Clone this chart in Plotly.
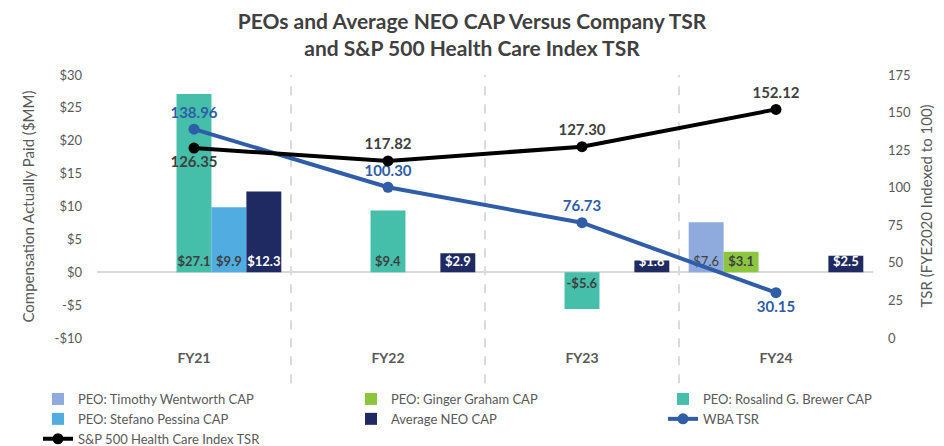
import plotly.graph_objects as go

categories = ["FY21", "FY22", "FY23", "FY24"]
wentworth = [None, None, None, 7.6]
graham = [None, None, None, 3.1]
brewer = [27.1, 9.4, -5.6, None]
pessina = [9.9, None, None, None]
neo = [12.3, 2.9, 1.8, 2.5]
wba_tsr = [138.96, 100.30, 76.73, 30.15]
sp_tsr = [126.35, 117.82, 127.30, 152.12]
wba_pos = ["top center", "top center", "top center", "bottom center"]
sp_pos = ["bottom center", "top center", "top center", "top center"]
left_ticks = [-10, -5, 0, 5, 10, 15, 20, 25, 30]
left_ticktext = ["-$10", "-$5", "$0", "$5", "$10", "$15", "$20", "$25", "$30"]
right_ticks = [0, 25, 50, 75, 100, 125, 150, 175]

FONT = "Lato"
GRAY = "#595959"
DARK = "#404040"

def money(vals):
    return [("" if v is None else ("-$%.1f" % abs(v) if v < 0 else "$%.1f" % v)) for v in vals]

fig = go.Figure()

bar_specs = [
    ("PEO: Timothy Wentworth CAP", wentworth, "#8FAADC", DARK, "normal", "legend"),
    ("PEO: Ginger Graham CAP", graham, "#8CC63F", DARK, "bold", "legend2"),
    ("PEO: Rosalind G. Brewer CAP", brewer, "#45BFAA", DARK, "bold", "legend3"),
    ("PEO: Stefano Pessina CAP", pessina, "#51ACE2", DARK, "bold", "legend"),
    ("Average NEO CAP", neo, "#1F2A62", "white", "bold", "legend2"),
]
for name, vals, col, tcol, tw, lg in bar_specs:
    fig.add_trace(go.Bar(
        x=categories, y=vals, name=name, marker=dict(color=col, line=dict(width=0)),
        text=money(vals), textposition="inside", insidetextanchor="start",
        constraintext="none", textangle=0, cliponaxis=False,
        textfont=dict(family=FONT, size=13, color=tcol, weight=tw),
        legend=lg,
    ))

fig.add_trace(go.Scatter(
    x=categories, y=wba_tsr, name="WBA TSR", yaxis="y2", mode="lines+markers+text",
    line=dict(color="#2F5DA8", width=4), marker=dict(size=11, color="#2F5DA8"),
    text=["%.2f" % v for v in wba_tsr], textposition=wba_pos, cliponaxis=False,
    textfont=dict(family=FONT, size=15, color="#2F5DA8", weight="bold"), legend="legend3",
))
fig.add_trace(go.Scatter(
    x=categories, y=sp_tsr, name="S&P 500 Health Care Index TSR", yaxis="y2",
    mode="lines+markers+text",
    line=dict(color="black", width=4), marker=dict(size=11, color="black"),
    text=["%.2f" % v for v in sp_tsr], textposition=sp_pos, cliponaxis=False,
    textfont=dict(family=FONT, size=15, color=DARK, weight="bold"), legend="legend",
))

# category dividers
for i in range(len(categories) - 1):
    fig.add_shape(type="line", xref="x", yref="paper", x0=i + 0.5, x1=i + 0.5,
                  y0=-0.172, y1=1.0, line=dict(color="#D0D0D0", width=1.5, dash="dash"),
                  layer="below")

# axis titles
fig.add_annotation(text="Compensation Actually Paid ($MM)", xref="paper", yref="paper",
                   x=(27 - 97) / 776, y=0.5, textangle=-90, showarrow=False,
                   xanchor="center", yanchor="middle",
                   font=dict(family=FONT, size=15, color=GRAY))
fig.add_annotation(text="TSR (FYE2020 Indexed to 100)", xref="paper", yref="paper",
                   x=(925 - 97) / 776, y=0.5, textangle=-90, showarrow=False,
                   xanchor="center", yanchor="middle",
                   font=dict(family=FONT, size=15, color=GRAY))

legend_common = dict(orientation="v", xref="container", yref="container", yanchor="top",
                     xanchor="left", font=dict(family=FONT, size=13, color=GRAY),
                     bgcolor="rgba(0,0,0,0)", tracegroupgap=0, itemwidth=30)

fig.update_layout(
    width=944, height=446,
    margin=dict(l=97, r=71, t=75, b=108, autoexpand=False),
    paper_bgcolor="white", plot_bgcolor="white",
    font=dict(family=FONT, color=GRAY),
    title=dict(text="PEOs and Average NEO CAP Versus Company TSR<br>and S&P 500 Health Care Index TSR",
               x=0.5, xanchor="center", y=1 - 29 / 446, yanchor="middle",
               font=dict(family=FONT, size=21, color=DARK, weight="bold")),
    barmode="group", bargap=0.1, bargroupgap=0,
    xaxis=dict(type="category", range=[-0.5, 3.5], showgrid=False, zeroline=False,
               showline=False, ticks="", ticklabelstandoff=10, automargin=False,
               tickfont=dict(family=FONT, size=14, color=GRAY, weight="bold")),
    yaxis=dict(range=[-10, 30], tickvals=left_ticks, ticktext=left_ticktext,
               showgrid=False, zeroline=True, zerolinecolor="#D9D9D9", zerolinewidth=2,
               showline=False, ticks="", ticklabelstandoff=14, automargin=False,
               tickfont=dict(family=FONT, size=13, color=GRAY)),
    yaxis2=dict(range=[0, 175], tickvals=right_ticks, overlaying="y", side="right",
                showgrid=False, zeroline=False, showline=False, ticks="", automargin=False,
                ticklabelstandoff=14, tickfont=dict(family=FONT, size=13, color=GRAY)),
    legend=dict(x=38 / 944, y=1 - 384 / 446, **legend_common),
    legend2=dict(x=351 / 944, y=1 - 384 / 446, **legend_common),
    legend3=dict(x=663 / 944, y=1 - 384 / 446, **legend_common),
    showlegend=True,
)

fig.write_html("out.html")
